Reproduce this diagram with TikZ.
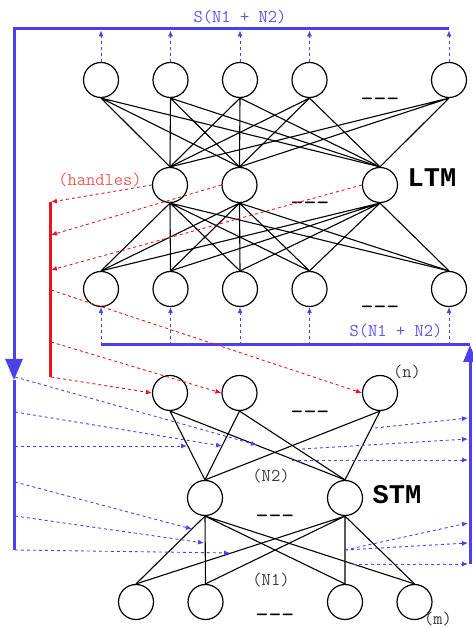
\documentclass[tikz,border=0pt]{standalone}
\usepackage{fontspec}
\usepackage{tikz}
\usetikzlibrary{positioning, arrows.meta}
\newfontfamily\boldmono{Liberation Mono}
\definecolor{sigblue}{RGB}{74,66,232}
\definecolor{lblblue}{RGB}{90,86,238}
\definecolor{handred}{RGB}{232,20,32}
\definecolor{lblred}{RGB}{240,92,92}
\definecolor{lblgray}{RGB}{60,60,60}
\tikzstyle{neuron} = [circle, minimum size=35pt, inner sep=0pt, draw=black, line width=1.2pt]
\tikzstyle{connect} = [line width=1.1pt, -]
\tikzstyle{bus} = [line width=3pt, draw=sigblue]
\tikzstyle{sig} = [dashed, line width=0.9pt, draw=sigblue, -{Latex[length=6pt,width=5pt]}]
\tikzstyle{handle} = [dashed, line width=0.9pt, draw=handred, -{Latex[length=6pt,width=5pt]}]
\tikzstyle{handlebar} = [line width=3pt, draw=handred]
\tikzstyle{sumlbl} = [inner sep=0pt, text=lblblue, font=\ttfamily\fontsize{18}{18}\selectfont]
\tikzstyle{handlelbl} = [inner sep=0pt, text=lblred, font=\ttfamily\fontsize{18}{18}\selectfont]
\tikzstyle{sizelbl} = [inner sep=0pt, text=lblgray, font=\ttfamily\fontsize{18}{18}\selectfont]
\tikzstyle{layerlbl} = [inner sep=0pt, text=black, font=\boldmono\bfseries\fontsize{27}{27}\selectfont]
\tikzstyle{dots} = [inner sep=0pt, text=black, font=\ttfamily\fontsize{25}{25}\selectfont]

\begin{document}
\begin{tikzpicture}[x=1pt, y=1pt, node distance=69.5pt]
    \useasboundingbox (0,0) rectangle (473,628);

    % LTM
    \node (out1) [neuron] at (101,548) {};
    \node (out2) [neuron, right of=out1] {};
    \node (out3) [neuron, right of=out2] {};
    \node (out4) [neuron, right of=out3] {};
    \node (out5) [neuron, right of=out4, xshift=70pt] {};
    \node (hid1) [neuron] at (170,443) {};
    \node (hid2) [neuron, right of=hid1] {};
    \node (hid3) [neuron, right of=hid2, xshift=71pt] {};
    \node (in1) [neuron] at (101,339) {};
    \node (in2) [neuron, right of=in1] {};
    \node (in3) [neuron, right of=in2] {};
    \node (in4) [neuron, right of=in3] {};
    \node (in5) [neuron, right of=in4, xshift=70pt] {};

    % STM
    \node (stmn1) [neuron] at (170,235) {};
    \node (stmn2) [neuron, right of=stmn1] {};
    \node (stmn3) [neuron, right of=stmn2, xshift=71pt] {};
    \node (stmh1) [neuron] at (205,130) {};
    \node (stmh2) [neuron, right of=stmh1, xshift=70.5pt] {};
    \node (stmm1) [neuron] at (136,26) {};
    \node (stmm2) [neuron, right of=stmm1] {};
    \node (stmm3) [neuron, right of=stmm2, xshift=70pt] {};
    \node (stmm4) [neuron, right of=stmm3] {};

    \node (dotsout) [dots] at (380,526) {-\kern0pt-\kern0pt-};
    \node (dotshid) [dots] at (310,422) {-\kern0pt-\kern0pt-};
    \node (dotsin) [dots] at (380,318) {-\kern0pt-\kern0pt-};
    \node (dotsn) [dots] at (310,213) {-\kern0pt-\kern0pt-};
    \node (dotsh) [dots] at (275,109) {-\kern0pt-\kern0pt-};
    \node (dotsm) [dots] at (275,10) {-\kern0pt-\kern0pt-};

    \node (ltm) [layerlbl] at (432,450) {LTM};
    \node (stm) [layerlbl] at (397,133) {STM};
    \node (handles) [handlelbl] at (100,448) {(handles)};
    \node (sumtop) [sumlbl] at (240,611) {S(N1 + N2)};
    \node (sumbot) [sumlbl] at (396,297) {S(N1 + N2)};
    \node (nlbl) [sizelbl] at (407,256) {(n)};
    \node (ntwolbl) [sizelbl] at (271,152) {(N2)};
    \node (nonelbl) [sizelbl] at (271,48) {(N1)};
    \node (mlbl) [sizelbl] at (438,9) {(m)};

    \draw [connect] (out1.south) -- (hid1.north) (out1.south) -- (hid2.north) (out1.south) -- (hid3.north);
    \draw [connect] (out2.south) -- (hid1.north) (out2.south) -- (hid2.north) (out2.south) -- (hid3.north);
    \draw [connect] (out3.south) -- (hid1.north) (out3.south) -- (hid2.north) (out3.south) -- (hid3.north);
    \draw [connect] (out4.south) -- (hid1.north) (out4.south) -- (hid2.north) (out4.south) -- (hid3.north);
    \draw [connect] (out5.south) -- (hid1.north) (out5.south) -- (hid2.north) (out5.south) -- (hid3.north);
    \draw [connect] (hid1.south) -- (in1.north) (hid1.south) -- (in2.north) (hid1.south) -- (in3.north) (hid1.south) -- (in4.north) (hid1.south) -- (in5.north);
    \draw [connect] (hid2.south) -- (in1.north) (hid2.south) -- (in2.north) (hid2.south) -- (in3.north) (hid2.south) -- (in4.north) (hid2.south) -- (in5.north);
    \draw [connect] (hid3.south) -- (in1.north) (hid3.south) -- (in2.north) (hid3.south) -- (in3.north) (hid3.south) -- (in4.north) (hid3.south) -- (in5.north);
    \draw [connect] (stmn1.south) -- (stmh1.north) (stmn1.south) -- (stmh2.north);
    \draw [connect] (stmn2.south) -- (stmh1.north) (stmn2.south) -- (stmh2.north);
    \draw [connect] (stmn3.south) -- (stmh1.north) (stmn3.south) -- (stmh2.north);
    \draw [connect] (stmh1.south) -- (stmm1.north) (stmh1.south) -- (stmm2.north) (stmh1.south) -- (stmm3.north) (stmh1.south) -- (stmm4.north);
    \draw [connect] (stmh2.south) -- (stmm1.north) (stmh2.south) -- (stmm2.north) (stmh2.south) -- (stmm3.north) (stmh2.south) -- (stmm4.north);

    % feedback bus
    \coordinate (busTR) at (449,599);
    \coordinate (busTL) at (14,599);
    \coordinate (busArr) at (14,248);
    \coordinate (busBL) at (14,78);
    \draw [bus, -{Triangle[length=21pt,width=17pt]}] (busTR) -- (busTL) -- (busArr);
    \draw [bus] (busArr) -- (busBL);
    \coordinate (rbusB) at (470,64);
    \coordinate (rbusT) at (470,283);
    \coordinate (rbusL) at (101,283);
    \draw [bus, -{Triangle[length=17pt,width=13pt]}] (rbusB) -- (rbusT);
    \draw [bus] (rbusT) -- (rbusL);

    \draw [sig, shorten >=1.5pt] (out1.north) -- (out1.north |- busTL);
    \draw [sig, shorten >=1.5pt] (out2.north) -- (out2.north |- busTL);
    \draw [sig, shorten >=1.5pt] (out3.north) -- (out3.north |- busTL);
    \draw [sig, shorten >=1.5pt] (out4.north) -- (out4.north |- busTL);
    \draw [sig, shorten >=1.5pt] (out5.north) -- (out5.north |- busTL);
    \draw [sig] (in1 |- rbusL) -- (in1.south);
    \draw [sig] (in2 |- rbusL) -- (in2.south);
    \draw [sig] (in3 |- rbusL) -- (in3.south);
    \draw [sig] (in4 |- rbusL) -- (in4.south);
    \draw [sig] (in5 |- rbusL) -- (in5.south);

    % handles
    \coordinate (hTop) at (50,426);
    \coordinate (hBot) at (50,251);
    \draw [handlebar] (hTop) -- (hBot);
    \coordinate (hA) at (51,426);
    \coordinate (hB) at (51,393);
    \coordinate (hC) at (51,358);
    \coordinate (hD) at (51,338);
    \coordinate (hE) at (51,286);
    \coordinate (hF) at (51,251);
    \draw [handle] (hid1.west) -- (hA);
    \draw [handle] (hid2.west) -- (hB);
    \draw [handle] (hid3.west) -- (hC);
    \draw [handle] (hD) -- (stmn3.west);
    \draw [handle] (hE) -- (stmn2.west);
    \draw [handle] (hF) -- (stmn1.west);

    % STM inputs
    \coordinate (inA1) at (15,251);
    \coordinate (inA2) at (15,216);
    \coordinate (inA3) at (15,182);
    \coordinate (inA4) at (15,146);
    \coordinate (inA5) at (15,112);
    \coordinate (inA6) at (15,78);
    \coordinate (inB1) at (257,183);
    \coordinate (inB2) at (222,182);
    \coordinate (inB3) at (187,182);
    \coordinate (inB4) at (192,99);
    \coordinate (inB5) at (204,85);
    \coordinate (inB6) at (230,75);
    \draw [sig] (inA1) -- (inB1);
    \draw [sig] (inA2) -- (inB2);
    \draw [sig] (inA3) -- (inB3);
    \draw [sig] (inA4) -- (inB4);
    \draw [sig] (inA5) -- (inB5);
    \draw [sig] (inA6) -- (inB6);

    % STM outputs
    \coordinate (outA1) at (375,200);
    \coordinate (outA2) at (302,179);
    \coordinate (outA3) at (292,168);
    \coordinate (outA4) at (345,78);
    \coordinate (outA5) at (345,78);
    \coordinate (outA6) at (353,64);
    \coordinate (outB1) at (468,210);
    \coordinate (outB2) at (468,189);
    \coordinate (outB3) at (468,168);
    \coordinate (outB4) at (468,105);
    \coordinate (outB5) at (468,85);
    \coordinate (outB6) at (468,64);
    \draw [sig] (outA1) -- (outB1);
    \draw [sig] (outA2) -- (outB2);
    \draw [sig] (outA3) -- (outB3);
    \draw [sig] (outA4) -- (outB4);
    \draw [sig] (outA5) -- (outB5);
    \draw [sig] (outA6) -- (outB6);

\end{tikzpicture}
\end{document}
